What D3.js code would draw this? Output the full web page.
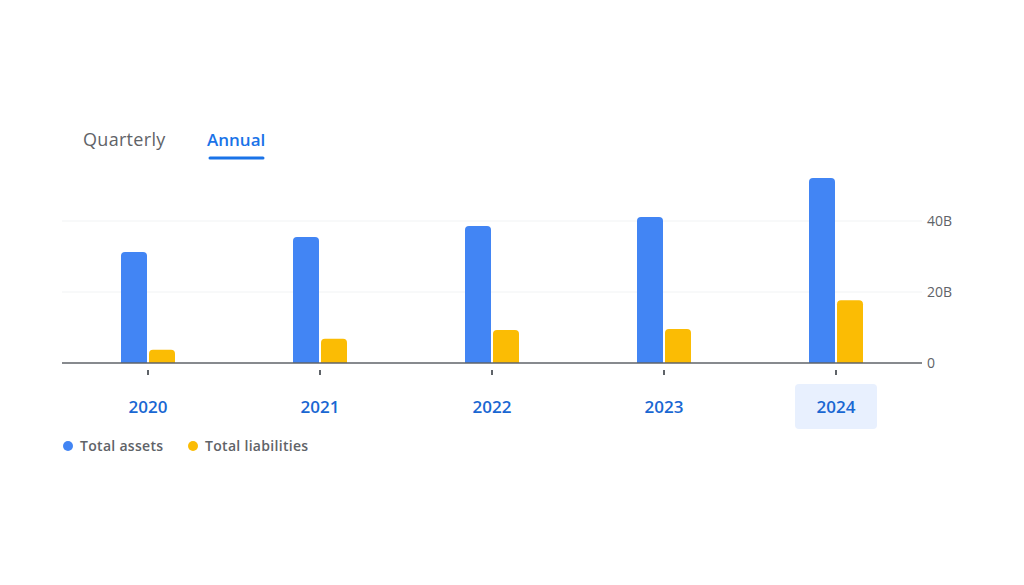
<!DOCTYPE html>
<html>
<head>
<meta charset="utf-8">
<script src="https://cdn.jsdelivr.net/npm/d3@7"></script>
<style>
  body { margin: 0; background: #fff; }
  svg { display: block; font-family: "Open Sans", Roboto, sans-serif; }
</style>
</head>
<body>
<svg id="chart" width="1024" height="585"></svg>
<script>
const years = ["2020", "2021", "2022", "2023", "2024"];
const totalAssets = [31.3, 35.5, 38.6, 41.1, 52.1];
const totalLiabilities = [3.7, 6.8, 9.3, 9.6, 17.7];
const yTicks = [0, 20, 40];
const seriesNames = ["Total assets", "Total liabilities"];
const seriesColors = ["#4285f4", "#fbbc04"];
const selectedYear = "2024";

const svg = d3.select("#chart");
const baseY = 363;

const x = d3.scaleBand().domain(years).range([62, 922]).padding(0);
const y = d3.scaleLinear().domain([0, 20]).range([baseY, 292]);
const barW = 26, gap = 2;

// tabs
svg.append("text").attr("x", 83).attr("y", 146)
  .text("Quarterly").style("font-size", "18px").style("letter-spacing", "0.3px").style("fill", "#5f6368");
svg.append("text").attr("x", 207).attr("y", 146)
  .text("Annual").style("font-size", "17px").style("font-weight", 600).style("fill", "#1a73e8");
svg.append("line").attr("x1", 210).attr("x2", 263).attr("y1", 158).attr("y2", 158)
  .style("stroke", "#1a73e8").style("stroke-width", 3).style("stroke-linecap", "round");

// gridlines
svg.selectAll("line.grid").data(yTicks.filter(d => d > 0)).enter()
  .append("line").attr("class", "grid")
  .attr("x1", 62).attr("x2", 922)
  .attr("y1", d => y(d)).attr("y2", d => y(d))
  .style("stroke", "#f1f3f4").style("stroke-width", 1);

// y labels
svg.selectAll("text.ylab").data(yTicks).enter()
  .append("text").attr("class", "ylab")
  .attr("x", 927).attr("y", d => y(d) + 5)
  .text(d => d === 0 ? "0" : d + "B")
  .style("font-size", "14px").style("fill", "#5f6368");

// selected year highlight
svg.append("rect")
  .attr("x", x(selectedYear) + x.bandwidth() / 2 - 41).attr("y", 384)
  .attr("width", 82).attr("height", 45).attr("rx", 4)
  .style("fill", "#e8f0fe");

// bars with rounded tops
const topRounded = (x0, w, yTop, yBot, r) => {
  r = Math.min(r, (yBot - yTop));
  return `M${x0},${yBot}V${yTop + r}Q${x0},${yTop} ${x0 + r},${yTop}H${x0 + w - r}Q${x0 + w},${yTop} ${x0 + w},${yTop + r}V${yBot}Z`;
};

const series = [totalAssets, totalLiabilities];
series.forEach((vals, si) => {
  svg.selectAll(`path.bar${si}`).data(vals).enter()
    .append("path").attr("class", `bar${si}`)
    .attr("d", (d, i) => {
      const cx = x(years[i]) + x.bandwidth() / 2;
      const x0 = si === 0 ? cx - gap / 2 - barW : cx + gap / 2;
      return topRounded(x0, barW, y(d), baseY, 4);
    })
    .style("fill", seriesColors[si]);
});

// baseline
svg.append("line").attr("x1", 62).attr("x2", 922).attr("y1", baseY).attr("y2", baseY)
  .style("stroke", "#5f6368").style("stroke-width", 1.5);

// x ticks
svg.selectAll("line.xtick").data(years).enter()
  .append("line").attr("class", "xtick")
  .attr("x1", d => x(d) + x.bandwidth() / 2).attr("x2", d => x(d) + x.bandwidth() / 2)
  .attr("y1", 370).attr("y2", 375)
  .style("stroke", "#5f6368").style("stroke-width", 2);

// x labels
svg.selectAll("text.xlab").data(years).enter()
  .append("text").attr("class", "xlab")
  .attr("x", d => x(d) + x.bandwidth() / 2).attr("y", 413)
  .attr("text-anchor", "middle")
  .text(d => d)
  .style("font-size", "17px").style("font-weight", 600).style("fill", "#1967d2");

// legend
const legendX = [68, 193];
seriesNames.forEach((name, i) => {
  svg.append("circle").attr("cx", legendX[i]).attr("cy", 446).attr("r", 5)
    .style("fill", seriesColors[i]);
  svg.append("text").attr("x", legendX[i] + 12).attr("y", 451)
    .text(name).style("font-size", "14px").style("font-weight", 600)
    .style("letter-spacing", "0.3px").style("fill", "#5f6368");
});
</script>
</body>
</html>
